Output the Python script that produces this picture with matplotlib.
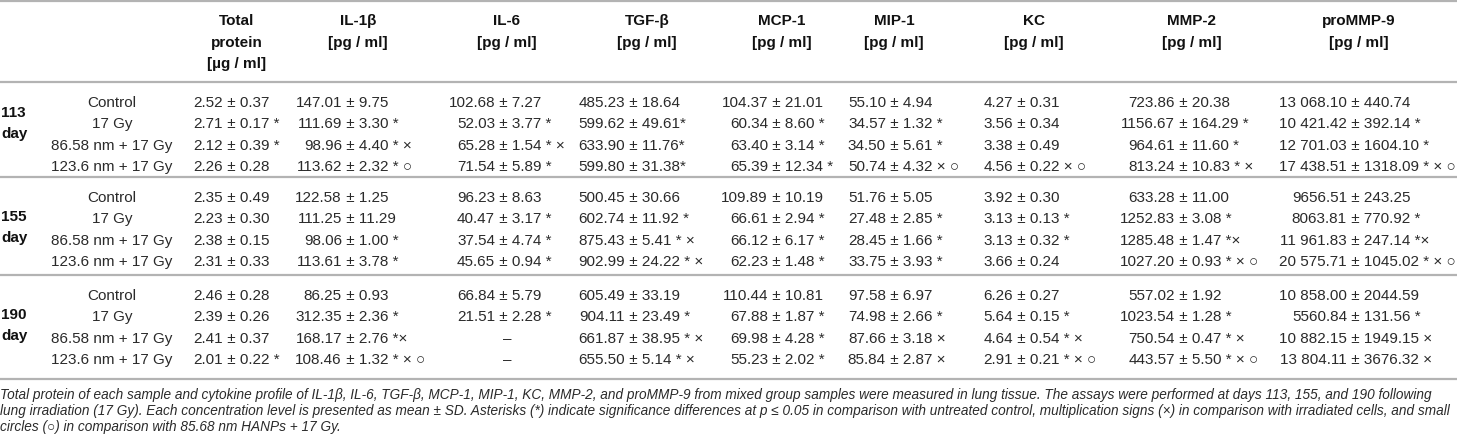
import matplotlib.pyplot as plt

plt.rcParams['font.family'] = ['Liberation Sans', 'DejaVu Sans']

# table content
days = ['113\nday', '155\nday', '190\nday']
samples = ['Control', '17 Gy', '86.58 nm + 17 Gy', '123.6 nm + 17 Gy']
headers = ['Total\nprotein\n[µg / ml]', 'IL-1β\n[pg / ml]', 'IL-6\n[pg / ml]', 'TGF-β\n[pg / ml]',
           'MCP-1\n[pg / ml]', 'MIP-1\n[pg / ml]', 'KC\n[pg / ml]', 'MMP-2\n[pg / ml]',
           'proMMP-9\n[pg / ml]']

total_protein = ['2.52 ± 0.37', '2.71 ± 0.17 *', '2.12 ± 0.39 *', '2.26 ± 0.28',
                 '2.35 ± 0.49', '2.23 ± 0.30', '2.38 ± 0.15', '2.31 ± 0.33',
                 '2.46 ± 0.28', '2.39 ± 0.26', '2.41 ± 0.37', '2.01 ± 0.22 *']
il1b = ['147.01 ± 9.75', '111.69 ± 3.30 *', '98.96 ± 4.40 * ×', '113.62 ± 2.32 * ○',
        '122.58 ± 1.25', '111.25 ± 11.29', '98.06 ± 1.00 *', '113.61 ± 3.78 *',
        '86.25 ± 0.93', '312.35 ± 2.36 *', '168.17 ± 2.76 *×', '108.46 ± 1.32 * × ○']
il6 = ['102.68 ± 7.27', '52.03 ± 3.77 *', '65.28 ± 1.54 * ×', '71.54 ± 5.89 *',
       '96.23 ± 8.63', '40.47 ± 3.17 *', '37.54 ± 4.74 *', '45.65 ± 0.94 *',
       '66.84 ± 5.79', '21.51 ± 2.28 *', '–', '–']
tgfb = ['485.23 ± 18.64', '599.62 ± 49.61*', '633.90 ± 11.76*', '599.80 ± 31.38*',
        '500.45 ± 30.66', '602.74 ± 11.92 *', '875.43 ± 5.41 * ×', '902.99 ± 24.22 * ×',
        '605.49 ± 33.19', '904.11 ± 23.49 *', '661.87 ± 38.95 * ×', '655.50 ± 5.14 * ×']
mcp1 = ['104.37 ± 21.01', '60.34 ± 8.60 *', '63.40 ± 3.14 *', '65.39 ± 12.34 *',
        '109.89 ± 10.19', '66.61 ± 2.94 *', '66.12 ± 6.17 *', '62.23 ± 1.48 *',
        '110.44 ± 10.81', '67.88 ± 1.87 *', '69.98 ± 4.28 *', '55.23 ± 2.02 *']
mip1 = ['55.10 ± 4.94', '34.57 ± 1.32 *', '34.50 ± 5.61 *', '50.74 ± 4.32 × ○',
        '51.76 ± 5.05', '27.48 ± 2.85 *', '28.45 ± 1.66 *', '33.75 ± 3.93 *',
        '97.58 ± 6.97', '74.98 ± 2.66 *', '87.66 ± 3.18 ×', '85.84 ± 2.87 ×']
kc = ['4.27 ± 0.31', '3.56 ± 0.34', '3.38 ± 0.49', '4.56 ± 0.22 × ○',
      '3.92 ± 0.30', '3.13 ± 0.13 *', '3.13 ± 0.32 *', '3.66 ± 0.24',
      '6.26 ± 0.27', '5.64 ± 0.15 *', '4.64 ± 0.54 * ×', '2.91 ± 0.21 * × ○']
mmp2 = ['723.86 ± 20.38', '1156.67 ± 164.29 *', '964.61 ± 11.60 *', '813.24 ± 10.83 * ×',
        '633.28 ± 11.00', '1252.83 ± 3.08 *', '1285.48 ± 1.47 *×', '1027.20 ± 0.93 * × ○',
        '557.02 ± 1.92', '1023.54 ± 1.28 *', '750.54 ± 0.47 * ×', '443.57 ± 5.50 * × ○']
prommp9 = ['13 068.10 ± 440.74', '10 421.42 ± 392.14 *', '12 701.03 ± 1604.10 *',
           '17 438.51 ± 1318.09 * × ○',
           '9656.51 ± 243.25', '8063.81 ± 770.92 *', '11 961.83 ± 247.14 *×',
           '20 575.71 ± 1045.02 * × ○',
           '10 858.00 ± 2044.59', '5560.84 ± 131.56 *', '10 882.15 ± 1949.15 ×',
           '13 804.11 ± 3676.32 ×']

caption = [
    'Total protein of each sample and cytokine profile of IL-1β, IL-6, TGF-β, MCP-1, MIP-1, KC, MMP-2, '
    'and proMMP-9 from mixed group samples were measured in lung tissue. The assays were performed at days '
    '113, 155, and 190 following',
    'lung irradiation (17 Gy). Each concentration level is presented as mean ± SD. Asterisks (*) indicate '
    'significance differences at p ≤ 0.05 in comparison with untreated control, multiplication signs (×) '
    'in comparison with irradiated cells, and small',
    'circles (○) in comparison with 85.68 nm HANPs + 17 Gy.',
]

columns = [total_protein, il1b, il6, tgfb, mcp1, mip1, kc, mmp2, prommp9]

# layout in pixels
header_x = [237, 358, 507, 647, 782, 894, 1034, 1192, 1359]
pm_x = [223, 342, 495, 625, 768, 886, 1013, 1175, 1347]
rule_y = [1, 82, 177, 275, 379]
day_shift = [-11, -2, -2]
row_step = 21.3
fs = 11
txt_col = '#2a2a2a'

fig = plt.figure(figsize=(14.6, 4.43), dpi=100)
ax = fig.add_axes([0, 0, 1, 1])
ax.set_xlim(0, 1460)
ax.set_ylim(443, 0)
ax.axis('off')

ax.hlines(rule_y, 0, 1457, color='#b3b3b3', lw=1.6)

for hx, h in zip(header_x, headers):
    for i, line in enumerate(h.split('\n')):
        ax.text(hx, 21 + i * 21.5, line, ha='center', va='center',
                fontsize=fs, fontweight='bold', color='#111111')

for b, day in enumerate(days):
    top = rule_y[b + 1]
    ys = [top + 21 + r * row_step for r in range(len(samples))]
    for i, part in enumerate(day.split('\n')):
        ax.text(1, ys[1] + day_shift[b] + i * 20.5, part, ha='left', va='center',
                fontsize=fs, fontweight='bold', color='#111111')
    for r, s in enumerate(samples):
        ax.text(112, ys[r], s, ha='center', va='center', fontsize=fs, color=txt_col)
        for c, col in enumerate(columns):
            cell = col[b * 4 + r]
            if ' ± ' in cell:
                left, right = cell.split(' ± ', 1)
                ax.text(pm_x[c], ys[r], left, ha='right', va='center',
                        fontsize=fs, color=txt_col)
                ax.text(pm_x[c], ys[r], ' ± ' + right, ha='left', va='center',
                        fontsize=fs, color=txt_col)
            else:
                ax.text(header_x[c], ys[r], cell, ha='center', va='center',
                        fontsize=fs, color=txt_col)

for i, line in enumerate(caption):
    ax.text(0, 395 + i * 16, line, ha='left', va='center', fontsize=9.8,
            style='italic', color=txt_col)

fig.savefig('out.png', dpi=100)
